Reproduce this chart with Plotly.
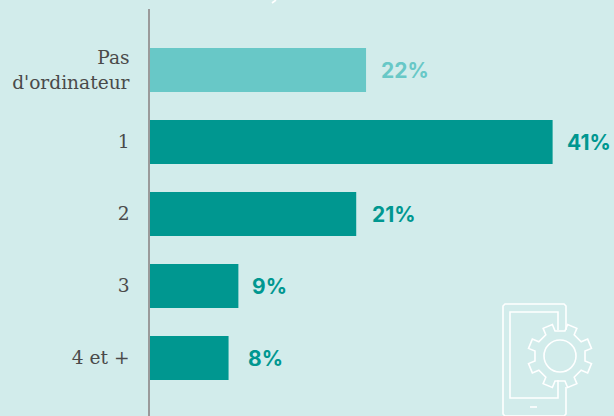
import math
import plotly.graph_objects as go

categories = ["Pas<br>d'ordinateur", "1", "2", "3", "4 et +"]
values = [22, 41, 21, 9, 8]
labels = ["22%", "41%", "21%", "9%", "8%"]
label_shift = [15, 14, 16, 14, 19]
BG = "#D2ECEB"
DARK = "#009790"
LIGHT = "#68C8C7"
colors = [LIGHT, DARK, DARK, DARK, DARK]
W, H = 614, 416
L, T = 150, 9


def px(x):
    return (x - L) / (W - L)


def py(y):
    return 1 - (y - T) / (H - T)


def path(points, close=False):
    s = "M " + " L ".join(f"{px(x):.5f},{py(y):.5f}" for x, y in points)
    return s + (" Z" if close else "")


fig = go.Figure(go.Bar(
    x=values, y=categories, orientation="h", marker=dict(color=colors, line_width=0),
    width=0.61, hoverinfo="skip",
))

for c, v, t, s, col in zip(categories, values, labels, label_shift, colors):
    fig.add_annotation(x=v, y=c, text=f"<b>{t}</b>", showarrow=False, xanchor="left", xshift=s - 2, yshift=-1,
                       font=dict(family="Inter", size=21, color=col))

line = dict(color="white", width=1.6)
shapes = []
# phone outline, open where the gear overlaps it
shapes.append(dict(type="path", path=path([(566, 330), (566, 306), (564, 304), (505, 304), (503, 306),
                                           (503, 414), (505, 416), (564, 416), (566, 414), (566, 387)]), line=line))
shapes.append(dict(type="path", path=path([(558, 330), (558, 312), (510, 312), (510, 398), (558, 398), (558, 380)]), line=line))
shapes.append(dict(type="path", path=path([(530, 407), (537, 407)]), line=line))
# gear
cx, cy, r1, r2, hw = 560, 356, 25, 32, 5
gear = []
for k in range(8):
    a = math.radians(22.5 + 45 * k)
    ux, uy = math.cos(a), math.sin(a)
    vx, vy = -uy, ux
    gear += [(cx + ux * r1 - vx * hw, cy + uy * r1 - vy * hw),
             (cx + ux * r2 - vx * hw, cy + uy * r2 - vy * hw),
             (cx + ux * r2 + vx * hw, cy + uy * r2 + vy * hw),
             (cx + ux * r1 + vx * hw, cy + uy * r1 + vy * hw)]
shapes.append(dict(type="path", path=path(gear, close=True), line=line))
shapes.append(dict(type="circle", x0=px(544), x1=px(576), y0=py(372), y1=py(340), line=line))
# small cropped white mark at the top edge
shapes.append(dict(type="path", path=path([(272, 3), (276, 0)]), line=line))
for s in shapes:
    s.update(xref="paper", yref="paper", layer="above")

fig.update_layout(
    width=W, height=H, margin=dict(l=L, r=0, t=T, b=0, pad=0),
    paper_bgcolor=BG, plot_bgcolor=BG, showlegend=False, shapes=shapes,
    xaxis=dict(range=[0, 47.25], visible=False),
    yaxis=dict(type="category", categoryorder="array", categoryarray=categories,
               range=[4.806, -0.847], showline=True, linecolor="#9A9A9A", linewidth=1.5,
               showgrid=False, zeroline=False, ticks="", ticklabelstandoff=15,
               tickfont=dict(family="DejaVu Serif", size=18.6, color="#4A4A4A")),
)

fig.write_html("out.html", post_script="document.body.style.margin='0';document.body.style.background='%s';" % BG,
               config=dict(displayModeBar=False))
